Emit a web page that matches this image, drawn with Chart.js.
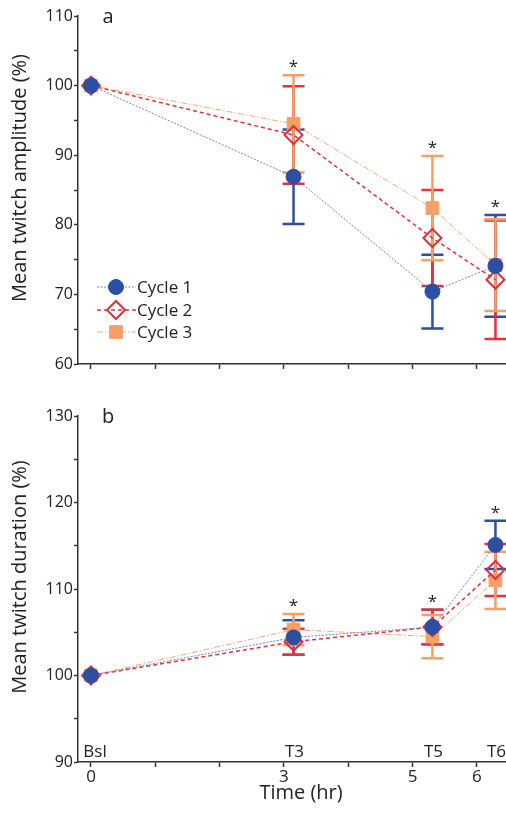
<!DOCTYPE html>
<html lang="en">
<head>
    <meta charset="UTF-8">
    <title>Mean twitch amplitude and duration</title>
    <script src="https://cdn.jsdelivr.net/npm/chart.js"></script>
    <style>
        html, body { margin: 0; padding: 0; background: #fff; overflow: hidden; }
        #wrap { position: relative; width: 506px; height: 814px; }
        .panel { position: absolute; left: 0; width: 506px; }
        .panel canvas { display: block; }
        #top { top: 0; height: 400px; }
        #bot { top: 400px; height: 414px; }
    </style>
</head>
<body>
<div id="wrap">
    <div class="panel" id="top"><canvas id="ampChart"></canvas></div>
    <div class="panel" id="bot"><canvas id="durChart"></canvas></div>
</div>

<script>
    // time points (hr) and their labels
    const timeLabels = ["Bsl", "T3", "T5", "T6"];
    const times = [0, 3.15, 5.31, 6.29];
    const significant = [false, true, true, true];
    const seriesNames = ["Cycle 1", "Cycle 2", "Cycle 3"];

    // panel a: amplitude (%)
    const ampCycle1 = [100, 86.9, 70.4, 74.1];
    const ampCycle2 = [100, 92.9, 78.1, 72.1];
    const ampCycle3 = [100, 94.5, 82.4, 74.2];
    const ampErr1 = [0, 6.8, 5.3, 7.3];
    const ampErr2 = [0, 7.0, 6.9, 8.5];
    const ampErr3 = [0, 7.0, 7.5, 6.6];

    // panel b: duration (%)
    const durCycle1 = [100, 104.4, 105.6, 115.1];
    const durCycle2 = [100, 103.9, 105.6, 112.2];
    const durCycle3 = [100, 105.3, 104.5, 111.0];
    const durErr1 = [0, 2.0, 2.0, 2.8];
    const durErr2 = [0, 1.5, 2.0, 3.0];
    const durErr3 = [0, 1.8, 2.5, 3.3];

    const xTicks = [0, 1, 2, 3, 4, 5, 6];
    const xTickLabels = { 0: "0", 3: "3", 5: "5", 6: "6" };

    const FONT = "'Open Sans', 'DejaVu Sans', sans-serif";
    const AXIS = "#333";

    const looks = [
        { bar: "#2c4ea3", line: "#6f83cf", dash: [2, 1.5], width: 1, point: "circle", radius: 7.5, fill: "#2c4ea3", border: "#2c4ea3", bw: 1 },
        { bar: "#e8323a", line: "#e8323a", dash: [4, 3], width: 1.5, point: "rectRot", radius: 9, fill: "rgba(255,255,255,0)", border: "#d5343c", bw: 2 },
        { bar: "#f5a066", line: "#f6a873", dash: [6, 2, 1.5, 2], width: 1, point: "rect", radius: 9, fill: "#f5a066", border: "#f5a066", bw: 1 }
    ];

    function buildDatasets(values) {
        return values.map((vals, i) => ({
            label: seriesNames[i],
            data: vals.map((v, k) => ({ x: times[k], y: v })),
            borderColor: looks[i].line,
            borderWidth: looks[i].width,
            borderDash: looks[i].dash,
            pointStyle: looks[i].point,
            pointRadius: looks[i].radius,
            pointBackgroundColor: looks[i].fill,
            pointBorderColor: looks[i].border,
            pointBorderWidth: looks[i].bw,
            clip: false,
            tension: 0
        }));
    }

    // draws error bars, asterisks, labels, legend, titles
    function panelPlugin(opts) {
        return {
            id: "panel_" + opts.letter,
            beforeDatasetsDraw(chart) {
                const ctx = chart.ctx, xs = chart.scales.x, ys = chart.scales.y;
                ctx.save();
                opts.values.forEach((vals, i) => {
                    ctx.strokeStyle = looks[i].bar;
                    ctx.lineWidth = 2.5;
                    vals.forEach((v, k) => {
                        const e = opts.errors[i][k];
                        if (!e) return;
                        const px = xs.getPixelForValue(times[k]);
                        const hi = ys.getPixelForValue(v + e), lo = ys.getPixelForValue(v - e);
                        ctx.beginPath();
                        ctx.moveTo(px, hi); ctx.lineTo(px, lo);
                        ctx.moveTo(px - 11, hi); ctx.lineTo(px + 11, hi);
                        ctx.moveTo(px - 11, lo); ctx.lineTo(px + 11, lo);
                        ctx.stroke();
                    });
                });
                ctx.restore();
            },
            afterDraw(chart) {
                const ctx = chart.ctx, xs = chart.scales.x, ys = chart.scales.y, area = chart.chartArea;
                ctx.save();
                ctx.fillStyle = "#222";
                // asterisks
                ctx.font = "17px " + FONT;
                ctx.textAlign = "center";
                ctx.textBaseline = "middle";
                times.forEach((t, k) => {
                    if (!significant[k]) return;
                    let top = -Infinity;
                    opts.values.forEach((vals, i) => { top = Math.max(top, vals[k] + opts.errors[i][k]); });
                    ctx.fillText("*", xs.getPixelForValue(t), ys.getPixelForValue(top) - 8);
                });
                // panel letter
                ctx.font = "20px " + FONT;
                ctx.fillText(opts.letter, 108, area.top + 1);
                // y title
                ctx.save();
                ctx.translate(20, (area.top + area.bottom) / 2 - 12);
                ctx.rotate(-Math.PI / 2);
                ctx.font = "20px " + FONT;
                ctx.fillText(opts.yTitle, 0, 0);
                ctx.restore();
                // x title
                if (opts.xLabels) {
                    ctx.font = "20px " + FONT;
                    ctx.fillText("Time (hr)", 301, chart.height - 21);
                }
                // time point labels
                if (opts.pointLabels) {
                    ctx.font = "17px " + FONT;
                    times.forEach((t, k) => {
                        ctx.fillText(timeLabels[k], xs.getPixelForValue(t) + (k === 0 ? 4 : 1), area.bottom - 10);
                    });
                }
                // legend
                if (opts.legend) {
                    const ys0 = [287, 310, 332];
                    seriesNames.forEach((name, i) => {
                        const y = ys0[i];
                        ctx.save();
                        ctx.strokeStyle = looks[i].line;
                        ctx.lineWidth = looks[i].width;
                        ctx.setLineDash(looks[i].dash);
                        ctx.beginPath();
                        ctx.moveTo(97, y); ctx.lineTo(136, y);
                        ctx.stroke();
                        ctx.restore();
                        ctx.fillStyle = looks[i].fill;
                        ctx.strokeStyle = looks[i].border;
                        ctx.lineWidth = looks[i].bw;
                        Chart.helpers.drawPoint(ctx, { pointStyle: looks[i].point, radius: looks[i].radius, rotation: 0, borderWidth: looks[i].bw }, 116, y);
                        ctx.fillStyle = "#222";
                        ctx.font = "17px " + FONT;
                        ctx.textAlign = "left";
                        ctx.fillText(name, 137, y + 1);
                    });
                }
                ctx.restore();
            }
        };
    }

    function makeChart(id, opts) {
        return new Chart(document.getElementById(id), {
            type: "line",
            data: { datasets: buildDatasets(opts.values) },
            options: {
                responsive: true,
                maintainAspectRatio: false,
                animation: false,
                layout: { autoPadding: false, padding: { top: 16, left: 0, right: 0, bottom: 0 } },
                plugins: { legend: { display: false }, tooltip: { enabled: false } },
                scales: {
                    x: {
                        type: "linear",
                        min: -0.202,
                        max: 6.454,
                        afterBuildTicks: s => { s.ticks = xTicks.map(v => ({ value: v })); },
                        afterFit: s => { s.height = opts.xHeight; },
                        ticks: {
                            autoSkip: false, maxRotation: 0, padding: 0,
                            color: "#222", font: { family: FONT, size: 17 },
                            callback: v => opts.xLabels ? (xTickLabels[v] || "") : ""
                        },
                        grid: { drawOnChartArea: false, drawTicks: true, tickLength: 5, tickWidth: 1.5, tickColor: AXIS },
                        border: { color: AXIS, width: 1.5 }
                    },
                    y: {
                        min: opts.yMin,
                        max: opts.yMax,
                        afterBuildTicks: s => {
                            const t = [];
                            for (let v = opts.yMin; v <= opts.yMax; v += 5) t.push({ value: v });
                            s.ticks = t;
                        },
                        afterFit: s => { s.width = 78; },
                        ticks: {
                            padding: 1, color: "#222", font: { family: FONT, size: 16 },
                            callback: v => (v % 10 === 0 ? String(v) : "")
                        },
                        grid: { drawOnChartArea: false, drawTicks: true, tickLength: 4, tickWidth: 1.5, tickColor: AXIS },
                        border: { color: AXIS, width: 1.5 }
                    }
                }
            },
            plugins: [panelPlugin(opts)]
        });
    }

    makeChart("ampChart", {
        letter: "a",
        yTitle: "Mean twitch amplitude (%)",
        values: [ampCycle1, ampCycle2, ampCycle3],
        errors: [ampErr1, ampErr2, ampErr3],
        yMin: 60, yMax: 110,
        xHeight: 36, xLabels: false,
        legend: true, pointLabels: false
    });

    makeChart("durChart", {
        letter: "b",
        yTitle: "Mean twitch duration (%)",
        values: [durCycle1, durCycle2, durCycle3],
        errors: [durErr1, durErr2, durErr3],
        yMin: 90, yMax: 130,
        xHeight: 52, xLabels: true,
        legend: false, pointLabels: true
    });
</script>
</body>
</html>
